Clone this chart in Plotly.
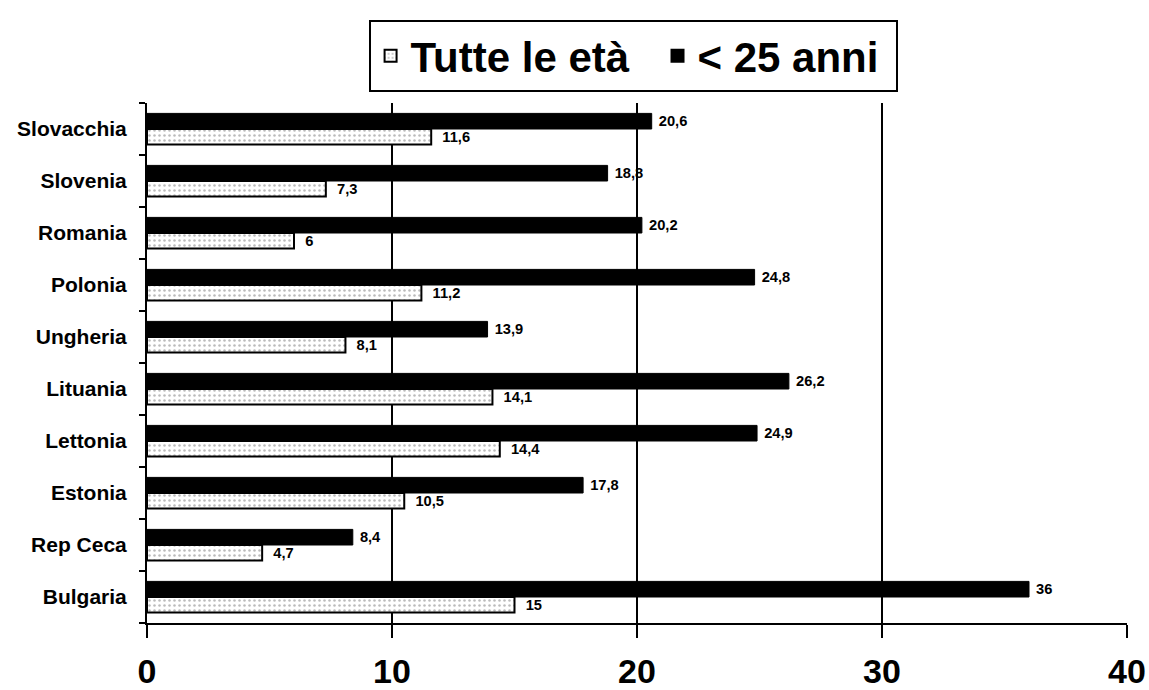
import plotly.graph_objects as go

countries = ["Bulgaria", "Rep Ceca", "Estonia", "Lettonia", "Lituania",
             "Ungheria", "Polonia", "Romania", "Slovenia", "Slovacchia"]
tutte = [15, 4.7, 10.5, 14.4, 14.1, 8.1, 11.2, 6, 7.3, 11.6]
under25 = [36, 8.4, 17.8, 24.9, 26.2, 13.9, 24.8, 20.2, 18.8, 20.6]
xticks = [0, 10, 20, 30, 40]

def fmt(v):
    s = ("%g" % v)
    return s.replace(".", ",")

FONT = "Arial, Liberation Sans, sans-serif"
NB = "\u00a0"

fig = go.Figure()
fig.add_trace(go.Bar(
    y=countries, x=tutte, orientation="h", name="Tutte le età" + NB * 2,
    marker=dict(color="white", line=dict(color="black", width=2),
                pattern=dict(shape=".", fgcolor="#777777", bgcolor="white", size=5, solidity=0.2)),
    text=[NB * 2 + fmt(v) for v in tutte], textposition="outside",
    textfont=dict(family=FONT, size=16, color="black", weight="bold"),
    cliponaxis=False,
))
fig.add_trace(go.Bar(
    y=countries, x=under25, orientation="h", name="< 25 anni" + NB,
    marker=dict(color="black", line=dict(color="black", width=1)),
    text=[NB + fmt(v) for v in under25], textposition="outside",
    textfont=dict(family=FONT, size=16, color="black", weight="bold"),
    cliponaxis=False,
))

fig.update_layout(
    width=1149, height=690,
    barmode="group", bargap=0.4, bargroupgap=0,
    paper_bgcolor="white", plot_bgcolor="white",
    margin=dict(l=147, r=22, t=103, b=67, autoexpand=False),
    font=dict(family=FONT, color="black"),
    showlegend=True,
    legend=dict(orientation="h", x=0.496, xanchor="center", y=0.971, yanchor="top",
                yref="container",
                font=dict(family=FONT, size=42, color="black", weight="bold"),
                bordercolor="black", borderwidth=2, bgcolor="white",
                itemsizing="constant", traceorder="normal", itemwidth=30,
                tracegroupgap=0),
    xaxis=dict(range=[0, 40], tickvals=xticks, ticktext=[str(t) for t in xticks],
               showgrid=True, gridcolor="black", gridwidth=2,
               showline=True, linecolor="black", linewidth=2,
               ticks="outside", ticklen=13, tickwidth=2, tickcolor="black",
               zeroline=False, automargin=False, ticklabelstandoff=4,
               tickfont=dict(family=FONT, size=34, color="black", weight="bold")),
    yaxis=dict(showline=True, linecolor="black", linewidth=2,
               ticks="outside", ticklen=6, tickwidth=2, tickcolor="black",
               tickson="boundaries", showgrid=False, automargin=False,
               ticklabelstandoff=14,
               tickfont=dict(family=FONT, size=21, color="black", weight="bold")),
)

fig.write_html(
    "out.html",
    config={"displayModeBar": False},
    post_script="document.body.style.margin='0';document.documentElement.style.overflow='hidden';document.body.style.overflow='hidden';",
)
